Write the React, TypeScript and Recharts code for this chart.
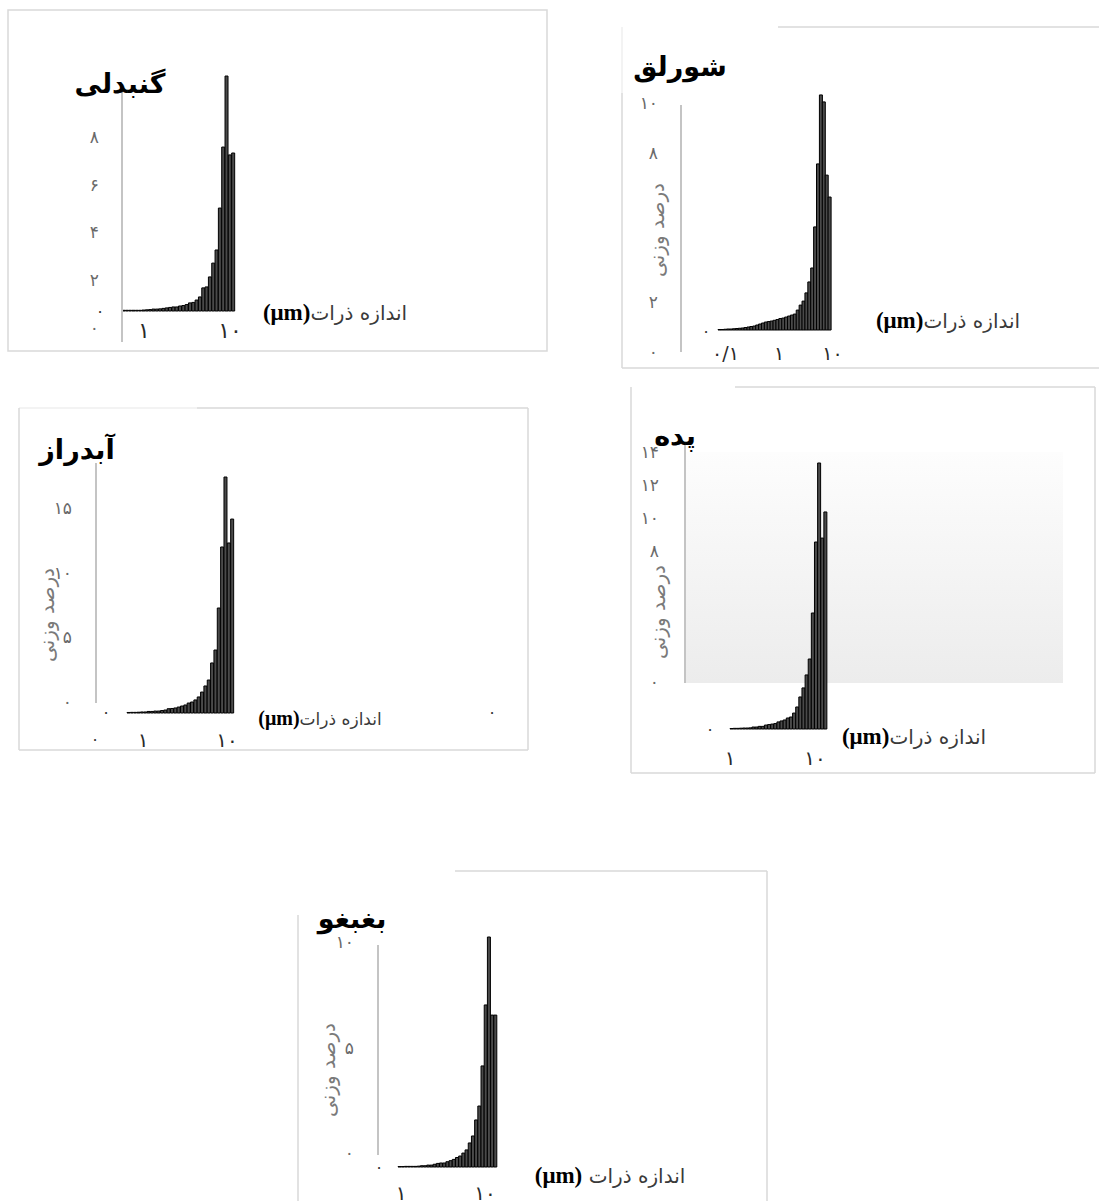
import React from 'react';
import { ComposedChart, Bar, XAxis, YAxis, ReferenceLine } from 'recharts';

// Particle-size bins (µm), roughly 20 per decade, ascending
const sizeBins = [
  '0.112', '0.126', '0.141', '0.158', '0.178', '0.2', '0.224', '0.251', '0.282', '0.316',
  '0.355', '0.398', '0.447', '0.501', '0.562', '0.631', '0.708', '0.794', '0.891', '1',
  '1.12', '1.26', '1.41', '1.58', '1.78', '2', '2.24', '2.51', '2.82', '3.16',
  '3.55', '3.98', '4.47', '5.01', '5.62', '6.31', '7.08', '7.94', '8.91', '10',
];

// درصد وزنی (weight %) per bin
const gonbadliValues = [
  0.03, 0.03, 0.03, 0.03, 0.03, 0.03, 0.04, 0.05, 0.06, 0.08, 0.08, 0.09, 0.11, 0.13, 0.15, 0.17,
  0.17, 0.21, 0.23, 0.27, 0.34, 0.36, 0.46, 0.59, 0.97, 1.01, 1.43, 2.01, 2.56, 4.32, 6.88, 9.86,
  6.55, 6.63,
];
const shurlaqValues = [
  0.02, 0.02, 0.03, 0.04, 0.04, 0.05, 0.06, 0.07, 0.08, 0.1, 0.12, 0.14, 0.16, 0.2, 0.24, 0.28,
  0.32, 0.34, 0.36, 0.39, 0.42, 0.46, 0.48, 0.52, 0.56, 0.6, 0.64, 0.8, 1.0, 1.16, 1.49, 1.93,
  2.49, 4.14, 6.67, 9.44, 9.16, 6.22, 5.34,
];
const abdrazValues = [
  0.04, 0.05, 0.05, 0.06, 0.08, 0.08, 0.12, 0.12, 0.15, 0.15, 0.19, 0.23, 0.33, 0.35, 0.39, 0.46,
  0.54, 0.62, 0.77, 0.85, 1.01, 1.24, 1.62, 2.09, 2.55, 3.87, 4.87, 8.12, 12.84, 18.25, 13.15, 15.0,
];
const padehValues = [
  0.03, 0.04, 0.04, 0.05, 0.06, 0.06, 0.07, 0.12, 0.12, 0.16, 0.16, 0.24, 0.27, 0.3, 0.33, 0.43,
  0.49, 0.55, 0.67, 0.73, 0.97, 1.34, 1.95, 2.5, 3.29, 4.26, 7.06, 11.38, 16.19, 11.62, 13.21,
];
const baghbaghuValues = [
  0.02, 0.02, 0.03, 0.03, 0.03, 0.03, 0.04, 0.06, 0.06, 0.09, 0.09, 0.13, 0.17, 0.19, 0.19, 0.25,
  0.3, 0.36, 0.45, 0.52, 0.66, 0.81, 1.14, 1.47, 2.23, 2.89, 4.79, 7.68, 10.9, 7.2, 7.2,
];

// Tick labels (x ticks in µm, shown on a log axis)
const gonbadliYTicks = [0, 2, 4, 6, 8];
const shurlaqYTicks = [0, 2, 8, 10];
const abdrazYTicks = [0, 5, 10, 15];
const padehYTicks = [0, 8, 10, 12, 14];
const baghbaghuYTicks = [0, 5, 10];
const decadeTicks = [1, 10];
const shurlaqXTicks = [0.1, 1, 10];

// Texts
const titles = ['گنبدلی', 'شورلق', 'آبدراز', 'پده', 'بغبغو'];
const yTitle = 'درصد وزنی';
const xTitle = 'اندازه ذرات';
const unit = '(μm)';

const FA = '۰۱۲۳۴۵۶۷۸۹';
const toFa = (v: number | string) =>
  String(v).replace('.', '/').replace(/[0-9]/g, (d) => FA[Number(d)]);
const fromLog = (v: number) => toFa(Number(Math.pow(10, v).toPrecision(6)));

type Layout = {
  plot: { l: number; r: number; t: number; b: number };
  bars: [number, number];
  baseline: number;
  k: number;
  zeroY: number;
  yLabelRight: number;
  axisLine: [number, number];
  xOne: number;
  decade: number;
  xLabelY: number;
  xFs: number;
};

const layouts: Layout[] = [
  { plot: { l: 122, r: 236, t: 70, b: 345 }, bars: [122, 235], baseline: 311, k: 23.83, zeroY: 327.6,
    yLabelRight: 99, axisLine: [90, 342], xOne: 144, decade: 86, xLabelY: 330, xFs: 22 },
  { plot: { l: 681, r: 833, t: 85, b: 355 }, bars: [718, 831], baseline: 330, k: 24.9, zeroY: 352,
    yLabelRight: 658, axisLine: [105, 352], xOne: 779, decade: 53.5, xLabelY: 353, xFs: 19 },
  { plot: { l: 96, r: 236, t: 460, b: 716 }, bars: [127, 234], baseline: 713, k: 12.93, zeroY: 702,
    yLabelRight: 72, axisLine: [463, 703], xOne: 143, decade: 84, xLabelY: 740, xFs: 20 },
  { plot: { l: 685, r: 829, t: 440, b: 732 }, bars: [730, 827], baseline: 729, k: 16.43, zeroY: 682,
    yLabelRight: 659, axisLine: [443, 683], xOne: 730, decade: 85, xLabelY: 758, xFs: 20 },
  { plot: { l: 378, r: 499, t: 925, b: 1170 }, bars: [398, 497], baseline: 1167, k: 21.1, zeroY: 1153,
    yLabelRight: 354, axisLine: [945, 1155], xOne: 401, decade: 84, xLabelY: 1193, xFs: 20 },
];

const Y_FS = 17;
const tickStyle = { fill: '#6a6a6a', fontSize: Y_FS, fontFamily: 'DejaVu Sans' };

function HistPanel({ values, yTicks, xTicks, lay }: { values: number[]; yTicks: number[]; xTicks: number[]; lay: Layout }) {
  const cats = sizeBins.slice(sizeBins.length - values.length);
  const data = cats.map((s, i) => ({ size: s, logSize: Math.log10(Number(s)), v: values[i] }));
  const { plot, k } = lay;
  const barDomain = [-(plot.b - lay.baseline) / k, (lay.baseline - plot.t) / k];
  const labDomain = [-(plot.b - lay.zeroY) / k, (lay.zeroY - plot.t) / k];
  const xLo = -(lay.xOne - plot.l) / lay.decade;
  const xHi = (plot.r - lay.xOne) / lay.decade;
  const logTicks = xTicks.map((t) => Math.log10(t));
  const axisTop = (lay.zeroY - lay.axisLine[0]) / k;
  const axisBottom = (lay.zeroY - lay.axisLine[1]) / k;
  const ML = 80, YW = 40, MT = 10, MR = 12, XH = 30, MB = 30;
  const left = plot.l - ML;
  const top = plot.t - MT;
  const width = plot.r - plot.l + ML + MR;
  const height = plot.b - plot.t + MT + XH + MB;
  const xTickStyle = { fill: '#2a2a2a', fontSize: lay.xFs, fontFamily: 'DejaVu Sans' };
  return (
    <div style={{ position: 'absolute', left, top, width, height }}>
      <ComposedChart width={width} height={height} data={data}
        margin={{ top: MT, right: MR, bottom: MB, left: ML - YW }} barCategoryGap={0} barGap={0}>
        <XAxis xAxisId="lab" dataKey="logSize" type="number" domain={[xLo, xHi]} allowDataOverflow
          ticks={logTicks} interval={0} tickFormatter={fromLog} axisLine={false} tickLine={false}
          tickSize={0} tickMargin={lay.xLabelY - 0.36 * lay.xFs - plot.b} height={XH} tick={xTickStyle} />
        <XAxis xAxisId="cat" dataKey="size" type="category" hide height={0}
          padding={{ left: lay.bars[0] - plot.l, right: plot.r - lay.bars[1] }} />
        <YAxis yAxisId="v" type="number" hide domain={barDomain} allowDataOverflow />
        <YAxis yAxisId="lab" type="number" width={YW} domain={labDomain} allowDataOverflow
          ticks={yTicks} interval={0} tickFormatter={toFa} axisLine={false} tickLine={false}
          tickSize={0} tickMargin={plot.l - lay.yLabelRight} tick={tickStyle} />
        <ReferenceLine xAxisId="lab" yAxisId="lab"
          segment={[{ x: xLo, y: axisBottom }, { x: xLo, y: axisTop }]}
          stroke="#c4c4c4" strokeWidth={2} ifOverflow="visible" />
        <Bar xAxisId="cat" yAxisId="v" dataKey="v" fill="#4a4a4a" stroke="#000" strokeWidth={1}
          isAnimationActive={false} />
      </ComposedChart>
    </div>
  );
}

function Label({ x, y, children, style, rotate }: { x: number; y: number; children: React.ReactNode; style?: React.CSSProperties; rotate?: boolean }) {
  return (
    <div dir="rtl" style={{
      position: 'absolute', left: x, top: y, whiteSpace: 'nowrap', lineHeight: 1,
      transform: `translate(-50%, -50%)${rotate ? ' rotate(-90deg)' : ''}`,
      fontFamily: 'DejaVu Sans', ...style,
    }}>{children}</div>
  );
}

const titleStyle: React.CSSProperties = { fontWeight: 700, fontSize: 27, color: '#000' };
const yTitleStyle: React.CSSProperties = { fontSize: 20, color: '#7a7a7a' };
const dotStyle: React.CSSProperties = { fontSize: 16, color: '#333' };

function XTitle({ x, y, fs, spaced }: { x: number; y: number; fs: number; spaced?: boolean }) {
  return (
    <Label x={x} y={y} style={{ fontSize: fs, color: '#3a3a3a' }}>
      {xTitle}{spaced ? ' ' : ''}
      <span style={{ fontFamily: '"Liberation Serif"', fontWeight: 700, color: '#000', fontSize: fs + 3 }}>{unit}</span>
    </Label>
  );
}

export default function App() {
  const B = '#d9d9d9';
  const F = '#efefef';
  return (
    <div style={{ position: 'absolute', left: 0, top: 0, width: 1099, height: 1201, background: '#fff', overflow: 'hidden' }}>
      <svg width={1099} height={1201} style={{ position: 'absolute', left: 0, top: 0 }}>
        <defs>
          <linearGradient id="padehBg" x1="0" y1="0" x2="0" y2="1">
            <stop offset="0" stopColor="#fdfdfd" />
            <stop offset="1" stopColor="#ececec" />
          </linearGradient>
        </defs>
        {/* panel 1 */}
        <rect x={8} y={10} width={539} height={341} fill="none" stroke={B} strokeWidth={1.5} />
        {/* panel 2 */}
        <line x1={778} y1={27} x2={1099} y2={27} stroke={B} strokeWidth={1.5} />
        <line x1={622} y1={27} x2={622} y2={93} stroke={F} strokeWidth={1.5} />
        <line x1={622} y1={93} x2={622} y2={368} stroke={B} strokeWidth={1.5} />
        <line x1={622} y1={368} x2={1099} y2={368} stroke={B} strokeWidth={1.5} />
        {/* panel 3 */}
        <line x1={19} y1={408} x2={197} y2={408} stroke={F} strokeWidth={1.5} />
        <line x1={197} y1={408} x2={528} y2={408} stroke={B} strokeWidth={1.5} />
        <line x1={19} y1={408} x2={19} y2={750} stroke={B} strokeWidth={1.5} />
        <line x1={528} y1={408} x2={528} y2={750} stroke={B} strokeWidth={1.5} />
        <line x1={19} y1={750} x2={528} y2={750} stroke={B} strokeWidth={1.5} />
        {/* panel 4 */}
        <rect x={685} y={452} width={378} height={231} fill="url(#padehBg)" />
        <line x1={735} y1={387} x2={1095} y2={387} stroke={B} strokeWidth={1.5} />
        <line x1={631} y1={387} x2={631} y2={773} stroke={B} strokeWidth={1.5} />
        <line x1={1095} y1={387} x2={1095} y2={773} stroke={B} strokeWidth={1.5} />
        <line x1={631} y1={773} x2={1095} y2={773} stroke={B} strokeWidth={1.5} />
        {/* panel 5 */}
        <line x1={455} y1={871} x2={767} y2={871} stroke={B} strokeWidth={1.5} />
        <line x1={767} y1={871} x2={767} y2={1201} stroke={B} strokeWidth={1.5} />
        <line x1={298} y1={915} x2={298} y2={1201} stroke={B} strokeWidth={1.5} />
      </svg>

      <HistPanel values={gonbadliValues} yTicks={gonbadliYTicks} xTicks={decadeTicks} lay={layouts[0]} />
      <HistPanel values={shurlaqValues} yTicks={shurlaqYTicks} xTicks={shurlaqXTicks} lay={layouts[1]} />
      <HistPanel values={abdrazValues} yTicks={abdrazYTicks} xTicks={decadeTicks} lay={layouts[2]} />
      <HistPanel values={padehValues} yTicks={padehYTicks} xTicks={decadeTicks} lay={layouts[3]} />
      <HistPanel values={baghbaghuValues} yTicks={baghbaghuYTicks} xTicks={decadeTicks} lay={layouts[4]} />

      {/* titles */}
      <Label x={120} y={83} style={titleStyle}>{titles[0]}</Label>
      <Label x={680} y={66} style={titleStyle}>{titles[1]}</Label>
      <Label x={77} y={449} style={titleStyle}>{titles[2]}</Label>
      <Label x={675} y={435} style={titleStyle}>{titles[3]}</Label>
      <Label x={352} y={918} style={titleStyle}>{titles[4]}</Label>

      {/* y-axis titles */}
      <Label x={657} y={230} rotate style={yTitleStyle}>{yTitle}</Label>
      <Label x={47} y={615} rotate style={yTitleStyle}>{yTitle}</Label>
      <Label x={658} y={612} rotate style={yTitleStyle}>{yTitle}</Label>
      <Label x={328} y={1070} rotate style={yTitleStyle}>{yTitle}</Label>

      {/* x-axis titles */}
      <XTitle x={335} y={312} fs={20} />
      <XTitle x={948} y={320} fs={20} />
      <XTitle x={320} y={718} fs={17} />
      <XTitle x={914} y={736} fs={20} />
      <XTitle x={610} y={1175} fs={20} spaced />

      {/* stray zero marks */}
      <Label x={100} y={312} style={dotStyle}>{toFa(0)}</Label>
      <Label x={706} y={332} style={dotStyle}>{toFa(0)}</Label>
      <Label x={95} y={740} style={dotStyle}>{toFa(0)}</Label>
      <Label x={106} y={713} style={dotStyle}>{toFa(0)}</Label>
      <Label x={492} y={713} style={dotStyle}>{toFa(0)}</Label>
      <Label x={710} y={730} style={dotStyle}>{toFa(0)}</Label>
      <Label x={379} y={1168} style={dotStyle}>{toFa(0)}</Label>
    </div>
  );
}
